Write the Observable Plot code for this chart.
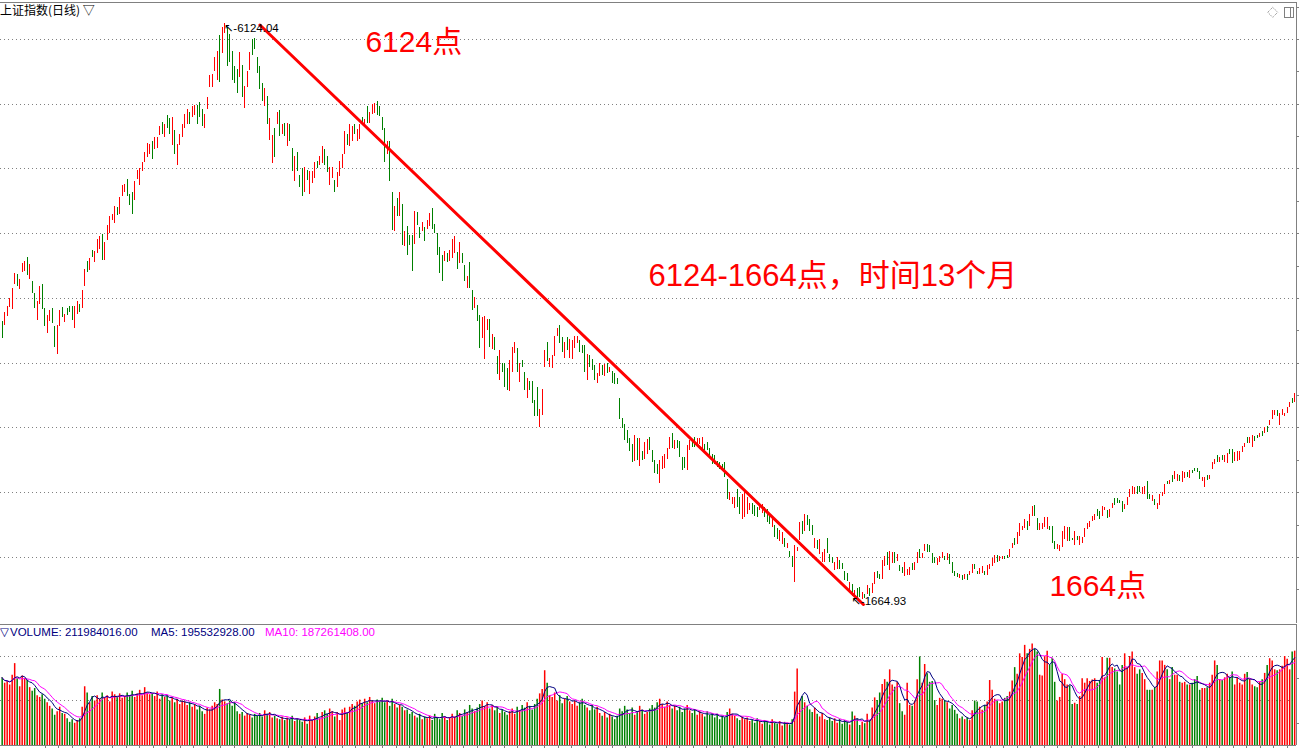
<!DOCTYPE html>
<html><head><meta charset="utf-8">
<script src="https://cdn.jsdelivr.net/npm/d3@7"></script>
<script src="https://cdn.jsdelivr.net/npm/@observablehq/plot@0.6"></script>
<style>
html,body{margin:0;padding:0;background:#fff;overflow:hidden}
#chart{position:relative;width:1299px;height:748px;font-family:"Liberation Sans",Arial,sans-serif}
#chart svg{display:block}
.ov{position:absolute;white-space:nowrap}
</style></head><body><div id="chart"></div>
<script>
// ---- daily candles (index points) ----
const opens = [
3825,3790,3860,3930,3915,4110,4185,4070,4200,4210,
4315,4150,4130,4040,3830,3955,4110,3920,3730,3825,
3920,3785,3570,3785,3930,3815,3925,3935,3935,3770,
3875,3950,3925,4095,4285,4215,4370,4275,4350,4380,
4495,4295,4450,4500,4600,4580,4700,4650,4790,4820,
4920,4800,4820,4760,4920,4870,4980,5050,5090,5110,
5210,5150,5160,5260,5360,5240,5410,5390,5180,5300,
5030,5180,5240,5310,5340,5440,5400,5410,5490,5510,
5460,5310,5460,5630,5630,5750,5680,6030,5890,6050,
6090,6040,5910,5790,5770,5710,5800,5470,5630,5760,
6000,6010,5860,5790,5660,5480,5560,5220,5040,5310,
5340,5450,5270,5350,5170,5340,5160,4900,5130,4950,
5000,4820,4990,4800,4890,4930,5060,5030,5040,5150,
5100,4870,4930,4910,4860,4940,5005,5110,5270,5170,
5210,5340,5210,5225,5400,5330,5485,5355,5420,5430,
5520,5485,5400,5310,5110,5210,4820,4515,4770,4630,
4725,4400,4555,4490,4485,4420,4665,4550,4515,4550,
4530,4555,4695,4575,4500,4395,4330,4285,4350,4285,
4310,4350,4355,4270,4345,4255,4080,4275,4060,3920,
3945,3865,3690,3530,3755,3840,3605,3695,3550,3370,
3500,3495,3460,3280,3425,3575,3610,3355,3520,3430,
3225,3360,3360,3210,3310,3000,3100,3470,3660,3470,
3460,3550,3705,3790,3700,3535,3700,3535,3525,3615,
3650,3675,3635,3635,3370,3560,3530,3480,3340,3395,
3480,3395,3500,3430,3435,3420,3385,3230,3070,3030,
2980,2920,2875,2745,2920,2700,2820,2755,2795,2930,
2825,2750,2720,2570,2680,2690,2760,2835,2955,2835,
2900,2895,2775,2775,2675,2825,2900,2930,2850,2875,
2835,2875,2885,2845,2795,2790,2745,2730,2720,2730,
2600,2440,2410,2380,2525,2460,2295,2310,2335,2360,
2415,2405,2385,2360,2340,2385,2370,2330,2230,2250,
2225,2125,2100,2150,2070,2050,2010,1810,2045,2130,
2280,2200,2325,2290,2250,2070,2130,2020,1960,1960,
2150,2020,2000,1900,1910,1975,1950,1890,1880,1745,
1790,1690,1760,1765,1675,1715,1715,1760,1720,1795,
1895,1870,1830,1930,2040,1900,1950,2035,1970,1935,
1920,1850,1860,1860,1950,1900,1950,2065,1990,2050,
2100,2090,2030,2000,1940,1960,1990,2010,1980,2025,
1960,1895,1880,1835,1860,1830,1870,1860,1880,1945,
1895,1870,1880,1895,1860,1905,1930,1955,2015,1970,
1985,2010,2015,2000,2070,2150,2100,2165,2205,2225,
2275,2240,2320,2405,2300,2205,2215,2230,2215,2240,
2240,2120,2060,2045,2080,2140,2125,2230,2150,2090,
2165,2095,2110,2155,2215,2230,2275,2285,2370,2355,
2320,2360,2360,2305,2380,2455,2455,2440,2435,2370,
2400,2460,2490,2485,2550,2545,2485,2490,2585,2485,
2430,2450,2370,2400,2470,2490,2590,2565,2630,2605,
2590,2630,2580,2610,2655,2610,2670,2690,2690,2665,
2590,2540,2630,2600,2680,2715,2785,2735,2790,2735,
2725,2830,2830,2740,2745,2750,2810,2850,2925,2880,
2850,2935,2940,2925,2975,2955,3010,3020,3065,3095,
3135,3020,3095,3085,3110,3160,3225,3200
];
const closes = [
3690,3890,3935,4000,4075,4195,4090,4150,4270,4285,
4175,4265,4035,3920,3975,4095,3915,3785,3865,3905,
3810,3625,3790,3905,3850,3880,3865,3890,3830,3935,
3975,3895,4060,4220,4200,4305,4315,4365,4455,4475,
4290,4435,4565,4630,4650,4710,4640,4780,4870,4880,
4790,4720,4650,4900,4990,5000,5050,5130,5200,5190,
5070,5240,5245,5330,5270,5340,5310,5270,5400,5110,
5190,5270,5340,5420,5460,5340,5480,5490,5340,5400,
5330,5420,5555,5725,5730,5860,5910,5670,6090,6124,
5790,5820,5680,5660,5580,5900,5550,5640,5750,5900,
5880,5920,5740,5610,5520,5620,5340,5390,5260,5090,
5440,5250,5340,5250,5350,5210,4980,5100,4980,4860,
4790,5010,4910,4980,4980,5050,5000,5100,5170,5030,
4970,5010,5010,4820,4970,5055,5115,5290,5185,5340,
5325,5265,5305,5340,5335,5385,5355,5440,5495,5505,
5410,5405,5300,5050,5210,4900,4525,4710,4630,4815,
4410,4520,4335,4410,4205,4675,4560,4465,4585,4440,
4600,4660,4530,4505,4335,4195,4130,4365,4275,4370,
4455,4475,4220,4430,4270,4130,4170,4075,3910,4005,
3820,3615,3855,3860,3835,3625,3725,3600,3415,3600,
3425,3315,3290,3520,3620,3660,3425,3495,3470,3290,
3380,3290,3190,3085,3085,3145,3300,3600,3510,3535,
3560,3705,3770,3650,3585,3660,3600,3680,3675,3705,
3705,3585,3575,3430,3565,3470,3445,3370,3420,3495,
3405,3490,3420,3470,3340,3335,3335,3065,2995,2905,
2880,2815,2735,2945,2750,2920,2750,2890,2910,2825,
2730,2645,2640,2750,2780,2795,2845,2925,2840,2900,
2840,2775,2670,2685,2865,2905,2850,2850,2920,2920,
2925,2825,2825,2775,2720,2715,2695,2680,2670,2620,
2450,2500,2460,2460,2385,2335,2485,2525,2460,2420,
2335,2320,2310,2420,2410,2310,2270,2255,2320,2155,
2135,2205,2190,2075,2105,2000,1925,2090,2080,2270,
2180,2335,2250,2200,2170,2150,2065,2140,2040,2060,
2030,1960,1950,1960,2000,1905,1905,1825,1815,1810,
1700,1745,1665,1690,1730,1680,1785,1700,1800,1885,
1840,1830,1975,2010,1940,2050,2040,1950,2020,1890,
1875,1960,1905,1920,1900,1965,2035,1990,2030,2100,
2040,2035,1950,1950,1995,2010,2035,1975,2030,1945,
1880,1850,1845,1865,1820,1870,1825,1895,1945,1905,
1870,1915,1930,1860,1940,1945,1995,2015,1960,2005,
2010,1985,1990,2060,2110,2090,2190,2265,2240,2290,
2205,2330,2395,2320,2205,2265,2265,2310,2305,2205,
2105,2060,2100,2095,2200,2240,2230,2120,2130,2200,
2130,2160,2155,2225,2260,2275,2320,2330,2320,2295,
2395,2385,2300,2370,2415,2405,2420,2415,2345,2410,
2460,2525,2545,2540,2490,2500,2540,2550,2450,2450,
2475,2400,2420,2485,2500,2560,2560,2595,2580,2665,
2640,2590,2665,2655,2620,2675,2645,2665,2655,2600,
2615,2615,2595,2635,2735,2760,2735,2775,2750,2790,
2800,2795,2725,2810,2820,2815,2855,2880,2880,2930,
2945,2895,2920,2955,2935,3005,2965,3060,3135,3135,
3085,3110,3140,3115,3160,3200,3190,3270
];
// volume in millions of shares
const volumes = [
152,140,144,136,158,184,150,132,156,150,
146,130,122,128,112,108,114,104,96,88,
82,68,76,86,72,70,60,52,58,50,
56,60,86,132,118,96,110,100,112,104,
118,106,112,98,120,114,108,116,106,110,
118,112,122,108,116,124,112,130,118,114,
116,110,120,104,114,108,112,100,106,96,
104,92,100,98,90,96,86,92,80,88,
76,70,84,80,88,96,92,126,102,98,
94,100,88,96,76,70,74,66,72,68,
62,70,66,72,64,78,70,74,62,66,
60,58,64,56,62,58,66,54,60,56,
52,62,48,66,56,64,72,60,74,78,
70,82,76,64,74,56,80,84,72,86,
92,88,98,102,94,104,96,108,100,94,
102,98,106,96,100,88,104,92,84,90,
86,78,80,70,74,66,62,70,58,64,
60,66,56,70,62,58,72,64,56,62,
70,64,78,72,66,80,74,90,82,76,
84,92,100,88,96,82,90,78,86,72,
80,74,68,76,82,70,86,78,90,84,
96,88,80,92,104,116,126,168,140,112,
108,118,100,112,94,104,110,98,92,100,
88,96,104,90,84,78,90,80,86,72,
66,74,62,70,64,58,66,82,76,88,
80,72,84,68,76,88,80,70,74,82,
90,84,96,104,92,86,98,90,82,88,
78,86,74,82,90,78,72,80,68,76,
70,64,76,68,72,62,70,58,66,62,
74,82,70,66,60,56,64,58,62,54,
56,50,60,54,48,56,52,46,58,50,
48,54,44,52,50,46,58,120,172,100,
110,96,88,80,74,84,70,64,72,58,
56,62,54,60,50,58,48,56,52,46,
75,66,60,45,52,49,70,56,84,107,
101,118,137,148,142,170,136,131,142,94,
76,68,140,90,88,100,148,199,140,182,
161,142,144,101,90,106,104,101,96,82,
90,79,70,60,64,58,62,56,78,100,
98,86,79,90,98,146,124,104,100,94,
98,106,110,120,145,175,160,206,198,225,
206,216,228,216,210,158,156,200,212,180,
196,142,100,108,160,148,136,134,92,95,
92,110,150,140,150,144,147,150,140,146,
198,152,196,196,175,172,165,136,180,206,
176,200,210,175,160,170,162,148,124,124,
124,130,165,190,190,180,170,148,175,158,
158,142,140,142,136,136,140,148,155,124,
128,128,130,140,158,190,180,148,146,152,
160,152,165,136,152,140,136,160,164,148,
136,132,130,142,148,162,180,195,190,170,
168,170,178,200,194,170,210,212
];
const priceGrid = [2000,2500,3000,3500,4000,4500,5000,5500,6000];
const priceTicks = d3.range(1750, 6300, 250);
const volGrid = [100, 200];
const volTicks = [50, 150];
const trendLine = [{i: 103.1, v: 6112}, {i: 344.5, v: 1637}];
const highMark = [{i: 89, v: 6124.04, label: "↖-6124.04"}];
const lowMark = [{i: 342, v: 1664.93, label: "↖-1664.93"}];
const notes = [
  {i: 145.3, v: 5980, label: "6124点", size: 30},
  {i: 258.5, v: 4170, label: "6124-1664点，时间13个月", size: 31},
  {i: 418.9, v: 1780, label: "1664点", size: 30}
];

const RED = "#ff0000", GREEN = "#008000", GRID = "#808080", NAVY = "#000080", MAGENTA = "#ff00ff";
const candles = closes.map((c, i) => ({i, open: opens[i], close: c, vol: volumes[i], up: c >= opens[i]}));
const XD = [-0.668, 517.73];
const TICK_X = 1.2; // ~3px in index units
const xTicks = d3.range(17.3, 518, 5.4);
const CJK = "'Liberation Sans','Noto Sans CJK SC',sans-serif";

const price = Plot.plot({
  width: 1299, height: 623,
  marginLeft: 0, marginRight: 3, marginTop: 2, marginBottom: 0,
  x: {domain: XD, axis: null},
  y: {domain: [1490.2, 6285.6], axis: null},
  marks: [
    Plot.frame({anchor: "top", stroke: GRID}),
    Plot.ruleY(priceGrid, {stroke: GRID, strokeDasharray: "1,3", shapeRendering: "crispEdges"}),
    Plot.ruleX([XD[1]], {stroke: GRID, shapeRendering: "crispEdges"}),
    Plot.ruleY(priceTicks, {x1: XD[1], x2: XD[1] + TICK_X, stroke: GRID, shapeRendering: "crispEdges"}),
    Plot.ruleX(candles, {filter: d => d.up, x: "i", y1: "open", y2: "close", stroke: RED, shapeRendering: "crispEdges"}),
    Plot.ruleX(candles, {filter: d => !d.up, x: "i", y1: "open", y2: "close", stroke: GREEN, shapeRendering: "crispEdges"}),
    Plot.line(trendLine, {x: "i", y: "v", stroke: RED, strokeWidth: 3}),
    Plot.text(highMark, {x: "i", y: "v", text: "label", textAnchor: "start", dx: -1, dy: 5, fontSize: 11.5, fill: "#000", fontFamily: "'Liberation Sans','DejaVu Sans',sans-serif"}),
    Plot.text(lowMark, {x: "i", y: "v", text: "label", textAnchor: "start", dx: -6, dy: 0, fontSize: 11.5, fill: "#000", fontFamily: "'Liberation Sans','DejaVu Sans',sans-serif"}),
    Plot.text(notes, {x: "i", y: "v", text: "label", textAnchor: "start", fontSize: "size", fill: RED, fontFamily: CJK})
  ]
});

const volume = Plot.plot({
  width: 1299, height: 125,
  marginLeft: 0, marginRight: 3, marginTop: 1, marginBottom: 3,
  x: {domain: XD, axis: null},
  y: {domain: [0, 271.9], axis: null},
  marks: [
    Plot.frame({anchor: "top", stroke: GRID}),
    Plot.ruleY(volGrid, {stroke: GRID, strokeDasharray: "1,3", shapeRendering: "crispEdges"}),
    Plot.ruleY([0], {stroke: GRID, shapeRendering: "crispEdges"}),
    Plot.ruleX([XD[1]], {stroke: GRID, shapeRendering: "crispEdges"}),
    Plot.ruleY(volTicks, {x1: XD[1], x2: XD[1] + TICK_X, stroke: GRID, shapeRendering: "crispEdges"}),
    Plot.ruleX(xTicks, {y1: 0, y2: -6.7, stroke: GRID, shapeRendering: "crispEdges"}),
    Plot.ruleX(candles, {filter: d => d.up, x: "i", y: "vol", stroke: RED, strokeWidth: 1.5}),
    Plot.ruleX(candles, {filter: d => !d.up, x: "i", y: "vol", stroke: GREEN, strokeWidth: 1.5}),
    Plot.lineY(candles, Plot.windowY({k: 10, anchor: "end", strict: false}, {x: "i", y: "vol", stroke: MAGENTA, strokeWidth: 1})),
    Plot.lineY(candles, Plot.windowY({k: 5, anchor: "end", strict: false}, {x: "i", y: "vol", stroke: NAVY, strokeWidth: 1}))
  ]
});

const root = document.getElementById("chart");
root.appendChild(price);
root.appendChild(volume);

const title = document.createElement("div");
title.className = "ov";
title.style.cssText = "left:0;top:2px;font-size:12px;line-height:16px;color:#000;font-family:'Noto Sans CJK SC',sans-serif";
title.textContent = "上证指数(日线) ▽";
root.appendChild(title);

const legend = [
  {t: "▽", left: 0, c: NAVY},
  {t: "VOLUME: 211984016.00", left: 10, c: NAVY},
  {t: "MA5: 195532928.00", left: 151, c: NAVY},
  {t: "MA10: 187261408.00", left: 265, c: MAGENTA}
];
for (const l of legend) {
  const s = document.createElement("div");
  s.className = "ov";
  s.style.cssText = `left:${l.left}px;top:624px;font-size:11.5px;line-height:16px;color:${l.c};font-family:'Liberation Sans','DejaVu Sans',sans-serif`;
  s.textContent = l.t;
  root.appendChild(s);
}

const icons = document.createElementNS("http://www.w3.org/2000/svg", "svg");
icons.setAttribute("width", "34"); icons.setAttribute("height", "18");
icons.style.cssText = "position:absolute;left:1264px;top:4px";
icons.innerHTML = '<path d="M8.7 3.3 L13.7 8.3 L8.7 13.3 L3.7 8.3 Z" fill="none" stroke="#808080" stroke-dasharray="1,1"/>' +
  '<rect x="20.5" y="3.5" width="9" height="10" fill="none" stroke="#808080"/>' +
  '<line x1="26.5" y1="3.5" x2="26.5" y2="13.5" stroke="#808080"/>';
root.appendChild(icons);
</script>
</body></html>
